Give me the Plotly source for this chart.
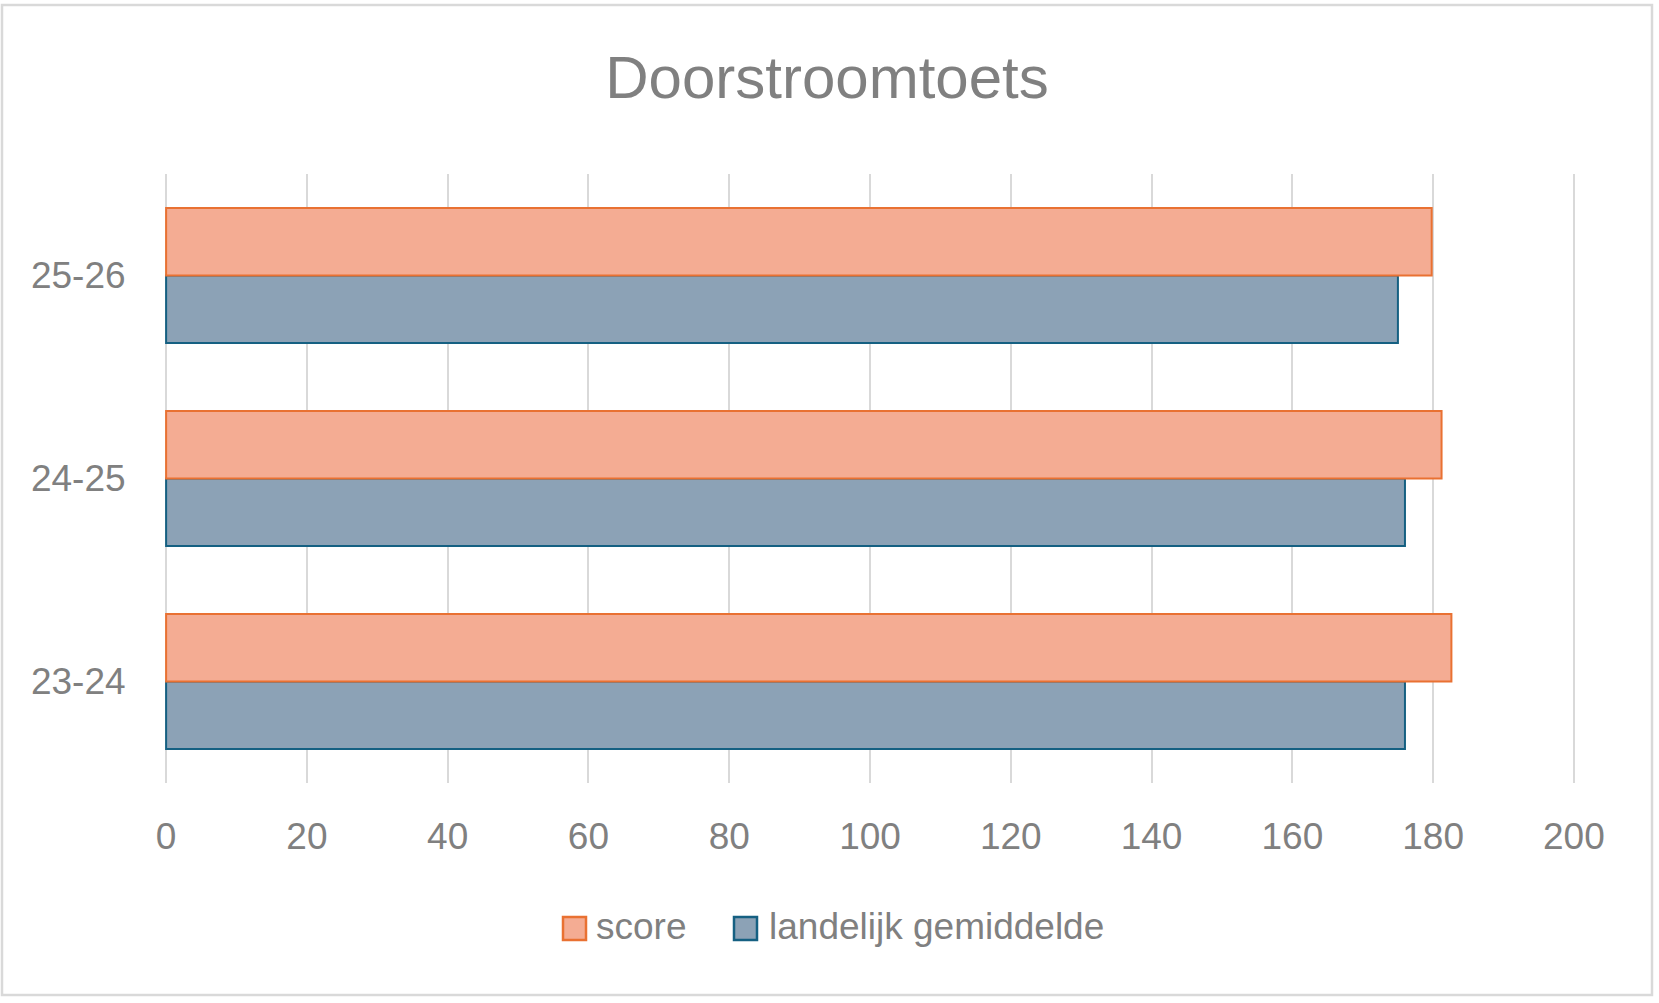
import plotly.graph_objects as go

# schooljaren (onder naar boven)
schooljaren = ['23-24', '24-25', '25-26']
score = [182.6, 181.2, 179.8]
landelijk_gemiddelde = [176.0, 176.0, 175.0]
x_ticks = [0, 20, 40, 60, 80, 100, 120, 140, 160, 180, 200]

grey_text = '#808080'
font_name = 'Liberation Sans'
orange_fill, orange_line = '#F4AC93', '#E97132'
blue_fill, blue_line = '#8CA2B6', '#156082'

W, H = 1659, 1003
L, R, T, B = 164, W - 83, 174, H - 220


def px_x(x):
    return (x - L) / (R - L)


def px_y(y):
    return (B - y) / (B - T)


fig = go.Figure()

# landelijk eerst, dan ligt score bovenaan binnen elke groep
fig.add_trace(go.Bar(
    y=schooljaren, x=landelijk_gemiddelde, orientation='h',
    name='landelijk gemiddelde',
    marker=dict(color=blue_fill, line=dict(color=blue_line, width=2)),
))
fig.add_trace(go.Bar(
    y=schooljaren, x=score, orientation='h',
    name='score',
    marker=dict(color=orange_fill, line=dict(color=orange_line, width=2)),
))

# eigen legenda (grotere vakjes zoals in Excel)
shapes = [dict(type='rect', xref='paper', yref='paper',
               x0=px_x(2), x1=px_x(1652), y0=px_y(995), y1=px_y(5),
               line=dict(color='#D9D9D9', width=2.5), layer='below')]
annotations = []
legend_items = [('score', orange_fill, orange_line, 563, 594),
                ('landelijk gemiddelde', blue_fill, blue_line, 734, 767)]
for name, fill, line, sq_x, txt_x in legend_items:
    shapes.append(dict(type='rect', xref='paper', yref='paper',
                       x0=px_x(sq_x), x1=px_x(sq_x + 23),
                       y0=px_y(940), y1=px_y(917),
                       fillcolor=fill, line=dict(color=line, width=2.5)))
    annotations.append(dict(text=name, xref='paper', yref='paper',
                            x=px_x(txt_x), y=px_y(926), xanchor='left',
                            yanchor='middle', showarrow=False,
                            font=dict(size=37, color=grey_text, family=font_name)))

fig.update_layout(
    width=W,
    height=H,
    barmode='group',
    bargap=0.335,
    bargroupgap=0,
    plot_bgcolor='white',
    paper_bgcolor='white',
    font=dict(family=font_name, color=grey_text, size=37),
    title=dict(text='Doorstroomtoets', x=px_x(827), xref='paper', xanchor='center',
               y=1 - 77 / H, yref='container', yanchor='middle',
               font=dict(size=60, color=grey_text, family=font_name)),
    margin=dict(l=L, r=W - R, t=T, b=H - B),
    showlegend=False,
    xaxis=dict(range=[-0.3, 200.3], tickvals=x_ticks, showgrid=True,
               gridcolor='#D9D9D9', gridwidth=2, zeroline=False,
               showline=False, ticks='outside', ticklen=21,
               tickcolor='rgba(0,0,0,0)', fixedrange=True),
    yaxis=dict(showgrid=False, zeroline=False, showline=False,
               ticks='outside', ticklen=30, tickcolor='rgba(0,0,0,0)',
               fixedrange=True),
    shapes=shapes,
    annotations=annotations,
)

# geen body-marge, zodat de grafiek het hele venster vult
fig.write_html('out.html', config={'displayModeBar': False},
               post_script="document.body.style.margin='0';")
